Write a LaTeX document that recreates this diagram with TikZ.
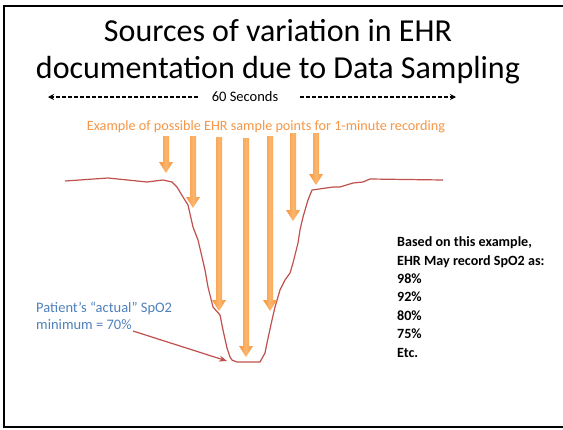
\documentclass[tikz,border=0pt]{standalone}
\usepackage{fontspec}
\setmainfont{Carlito}
\usetikzlibrary{arrows.meta}
\definecolor{orangeEdge}{HTML}{F7963F}
\definecolor{orangeMid}{HTML}{FBB56C}
\definecolor{captionOrange}{HTML}{F79646}
\definecolor{curveRed}{HTML}{C0504D}
\definecolor{noteBlue}{HTML}{4F81BD}
\tikzset{
  frameline/.style={line width=2pt, black},
  spanarrow/.style={dash pattern=on 4pt off 2pt, line width=1.5pt, -{Stealth[length=6pt,width=6pt]}},
  signal/.style={curveRed, line width=1.2pt, line join=round},
  pointer/.style={curveRed, line width=1.2pt, -{Stealth[length=8pt,width=6pt]}},
  bodytext/.style={inner sep=0pt, anchor=west, align=left}
}
\begin{document}
\begin{tikzpicture}[x=1pt, y=-1pt]
  \useasboundingbox (0,0) rectangle (563,429);
  \fill[white] (0,0) rectangle (563,429);
  % slide frame (open on the right)
  \draw[frameline] (566,6) -- (4,6) -- (4,427) -- (566,427);

  % title
  \node[font=\fontsize{32}{37}\selectfont, align=center] (title) at (278,52)
    {Sources of variation in EHR\\documentation due to Data Sampling};

  % one-minute span
  \node[font=\fontsize{14.5}{17}\selectfont] (span) at (245,97) {60 Seconds};
  \coordinate (spanL) at (48,97);
  \coordinate (spanR) at (456,97);
  \draw[spanarrow] (198,97) -- (spanL);
  \draw[spanarrow] (300,97) -- (spanR);

  % caption of the sample points
  \node[font=\fontsize{14.2}{17}\selectfont, text=captionOrange] (caption) at (266,127)
    {Example of possible EHR sample points for 1-minute recording};

  % SpO2 trace
  \draw[signal] (65,181) -- (108,178) -- (147,182) -- (163,180) -- (172,182)
    -- (177,187) -- (183,197) -- (188,205) -- (193,227) -- (198,240)
    -- (202,257) -- (205,270) -- (208,287) -- (213,307) -- (220,315)
    -- (223,330) -- (227,348) -- (230,357) -- (232,360) -- (237,362)
    -- (260,362) -- (265,353) -- (267,343) -- (272,320) -- (275,307)
    -- (280,290) -- (285,280) -- (290,273) -- (293,263) -- (298,243)
    -- (300,230) -- (303,217) -- (308,200) -- (312,190) -- (333,187)
    -- (340,187) -- (353,183) -- (363,182) -- (370,179) -- (443,180);

  % sample-point arrows
  \foreach \x/\t/\b in {166/136/173, 193/136/208, 219/137/311, 246/138/357,
                        270/136/311, 293/133/221, 316/133/185} {
    \shade[left color=orangeEdge, right color=orangeEdge, middle color=orangeMid]
      (\x-3,\t) -- (\x+3,\t) -- (\x+3,\b-11) -- (\x+7,\b-11) -- (\x,\b)
      -- (\x-7,\b-11) -- (\x-3,\b-11) -- cycle;
  }

  % actual minimum note
  \node[bodytext, font=\fontsize{14.5}{16.5}\selectfont, text=noteBlue] (note) at (36,316)
    {Patient’s “actual” SpO2\\minimum = 70\%};
  \coordinate (minpt) at (227,361);
  \coordinate (notetail) at (133,331);
  \draw[pointer] (notetail) -- (minpt);

  % possible recorded values
  \node[bodytext, font=\bfseries\fontsize{14.1}{18.4}\selectfont] (values) at (397,297)
    {Based on this example,\\EHR May record SpO2 as:\\98\%\\92\%\\80\%\\75\%\\Etc.};
\end{tikzpicture}
\end{document}
